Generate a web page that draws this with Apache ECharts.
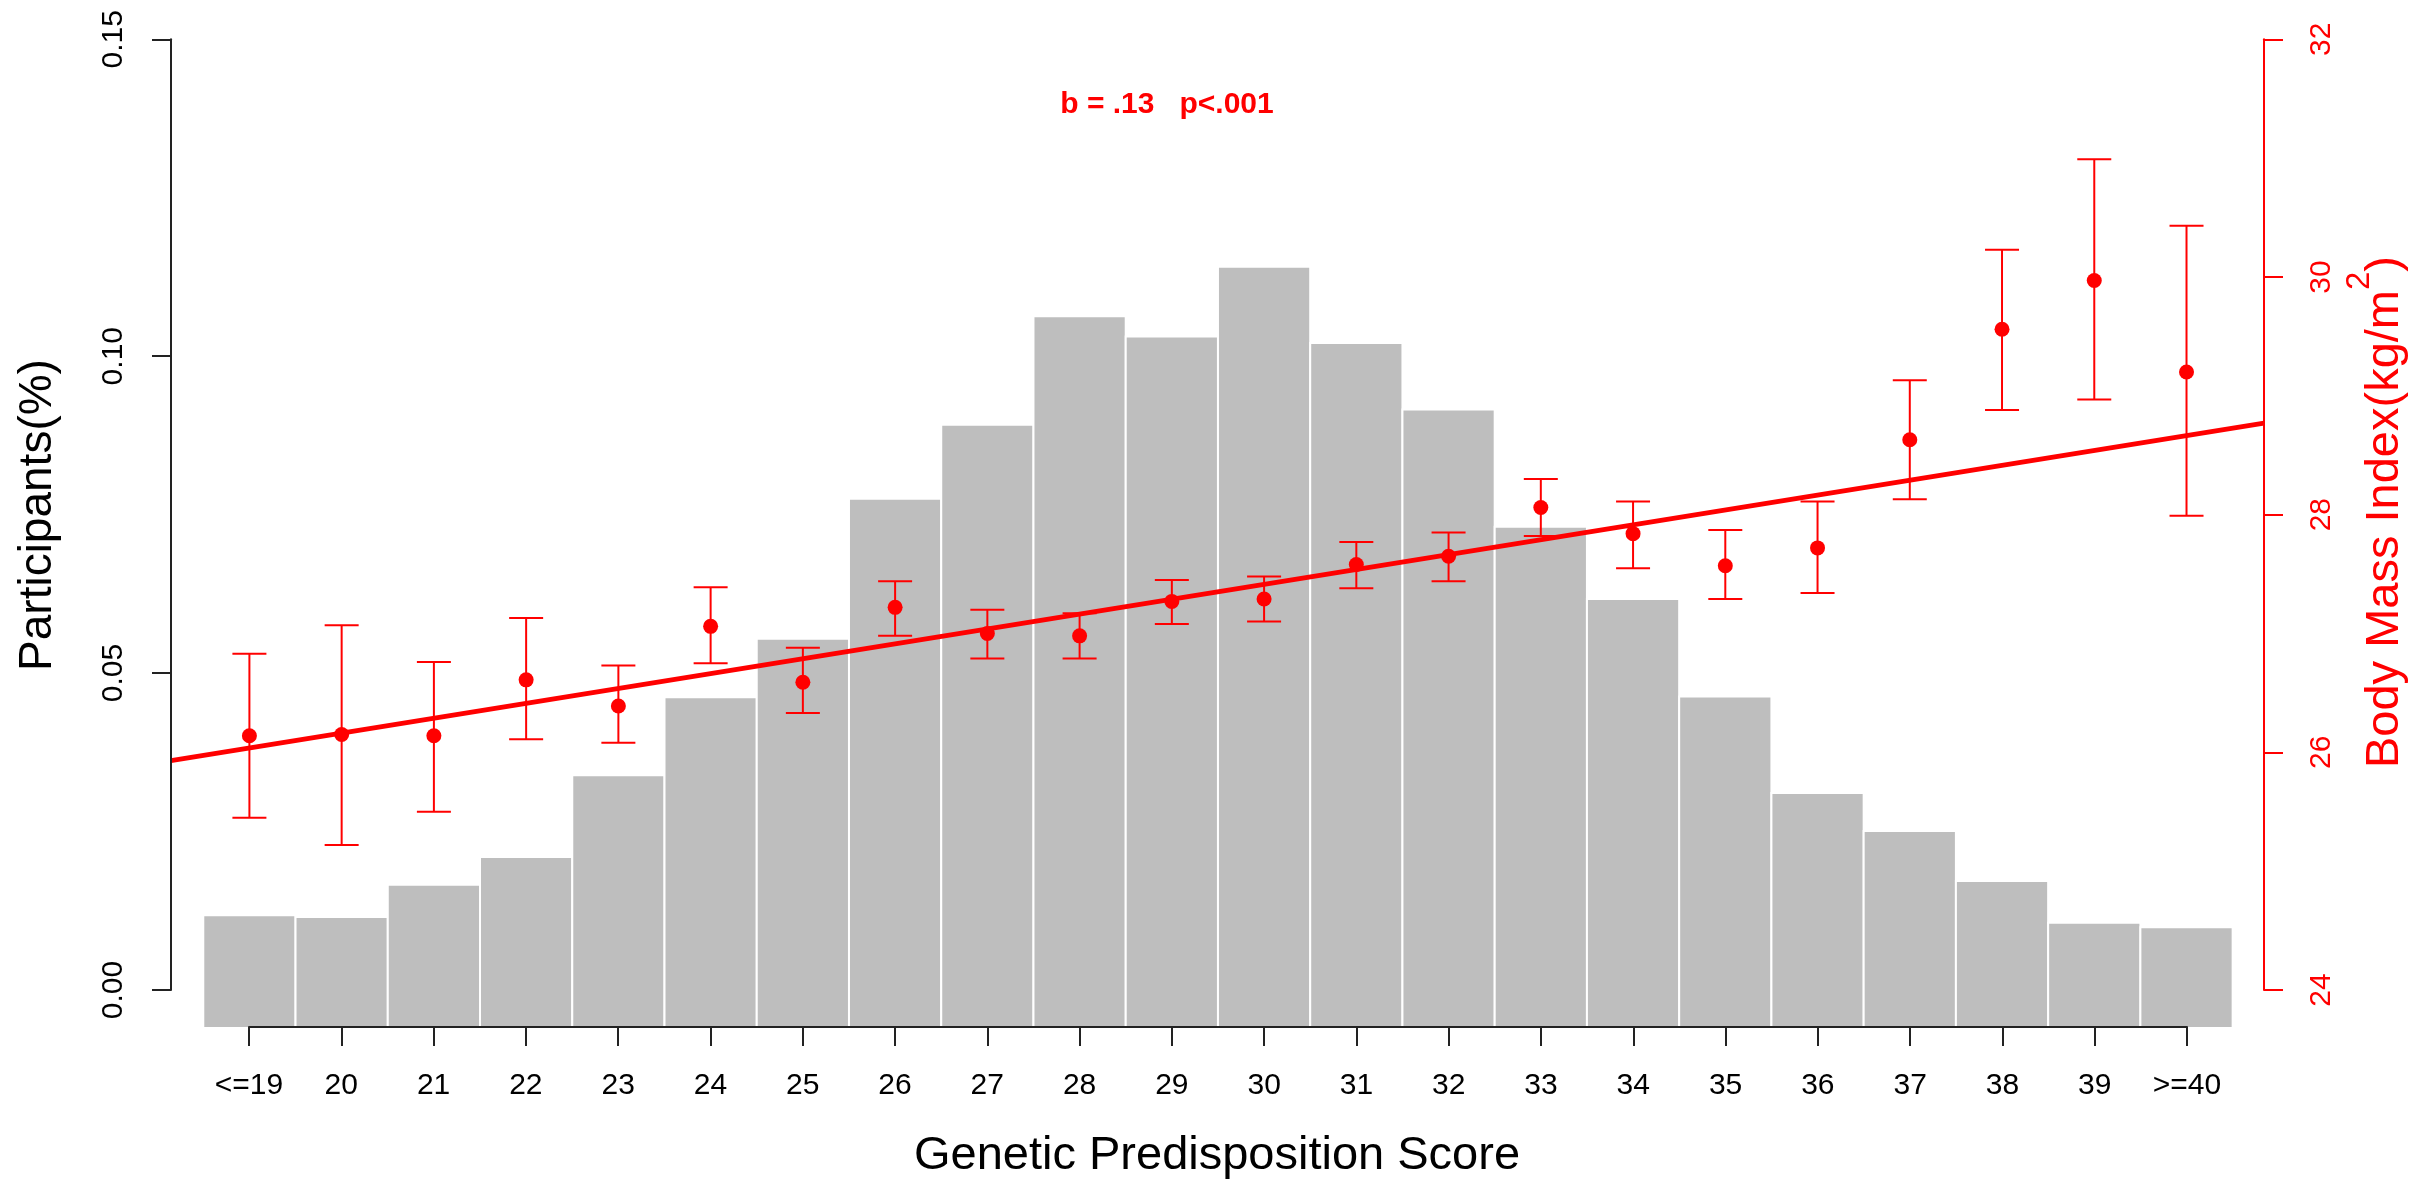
<!DOCTYPE html>
<html>
<head>
<meta charset="utf-8">
<title>Genetic Predisposition Score vs BMI</title>
<script src="https://cdn.jsdelivr.net/npm/echarts@6/dist/echarts.min.js"></script>
<style>
  html, body { margin: 0; padding: 0; background: #ffffff; }
  #chart { width: 2432px; height: 1185px; }
</style>
</head>
<body>
<div id="chart"></div>
<script>
// score groups on the x axis
const categories = ["<=19", "20", "21", "22", "23", "24", "25", "26", "27", "28", "29", "30",
  "31", "32", "33", "34", "35", "36", "37", "38", "39", ">=40"];
// share of participants per group (left axis)
const participants = [0.0118, 0.0115, 0.0166, 0.0210, 0.0339, 0.0462, 0.0554, 0.0775, 0.0892, 0.1063, 0.1031,
  0.1141, 0.1021, 0.0916, 0.0731, 0.0617, 0.0463, 0.0311, 0.0251, 0.0172, 0.0106, 0.0099];
// mean BMI and its interval per group (right axis)
const bmiMean = [26.14, 26.15, 26.14, 26.61, 26.39, 27.06, 26.59, 27.22, 27.00, 26.98, 27.27,
  27.29, 27.58, 27.65, 28.06, 27.84, 27.57, 27.72, 28.63, 29.56, 29.97, 29.20];
const bmiLow = [25.45, 25.22, 25.50, 26.11, 26.08, 26.75, 26.33, 26.98, 26.79, 26.79, 27.08,
  27.10, 27.38, 27.44, 27.82, 27.55, 27.29, 27.34, 28.13, 28.88, 28.97, 27.99];
const bmiHigh = [26.83, 27.07, 26.76, 27.13, 26.73, 27.39, 26.88, 27.44, 27.20, 27.17, 27.45,
  27.48, 27.77, 27.85, 28.30, 28.11, 27.87, 28.11, 29.13, 30.23, 30.99, 30.43];
// fitted regression line, at both ends of the plot box
const fitX = [-0.85, 21.84];
const fitY = [25.93, 28.77];
// tick labels
const leftTicks = [0, 0.05, 0.10, 0.15];
const rightTicks = [24, 26, 28, 30, 32];

const FONT = '"Liberation Sans", Arial, sans-serif';
const RED = "#ff0000";
const BAR_BASE = -0.006; // bars run a bit below zero, down to the x axis
const CAP = 17; // half width of error bar caps, px

const myChart = echarts.init(document.getElementById("chart"));

const option = {
  animation: false,
  backgroundColor: "#ffffff",
  textStyle: { fontFamily: FONT },
  grid: [
    // plot box, between the two y axes
    { left: 171, right: 168, top: 39.3, bottom: 195, outerBoundsMode: "none" },
    // x axis, from first to last group
    { left: 249, right: 245, top: 1000, bottom: 158, outerBoundsMode: "none" }
  ],
  xAxis: [
    { type: "value", gridIndex: 0, min: fitX[0], max: fitX[1], show: false },
    {
      type: "category",
      gridIndex: 1,
      data: categories,
      boundaryGap: false,
      position: "bottom",
      z: 10,
      axisLine: { show: true, onZero: false, lineStyle: { color: "#222", width: 2 } },
      axisTick: { show: true, length: 19, alignWithLabel: true, lineStyle: { color: "#222", width: 2 } },
      axisLabel: { show: true, interval: 0, margin: 44, fontSize: 30, color: "#000", fontFamily: FONT },
      splitLine: { show: false }
    }
  ],
  yAxis: [
    {
      type: "value",
      gridIndex: 0,
      position: "left",
      min: leftTicks[0],
      max: leftTicks[leftTicks.length - 1],
      interval: 0.05,
      z: 10,
      axisLine: { show: true, onZero: false, lineStyle: { color: "#222", width: 2 } },
      axisTick: { show: true, length: 19, lineStyle: { color: "#222", width: 2 } },
      axisLabel: {
        rotate: 90,
        margin: 42,
        fontSize: 30,
        color: "#000",
        fontFamily: FONT,
        formatter: value => value.toFixed(2)
      },
      splitLine: { show: false }
    },
    {
      type: "value",
      gridIndex: 0,
      position: "right",
      min: rightTicks[0],
      max: rightTicks[rightTicks.length - 1],
      interval: 2,
      z: 10,
      axisLine: { show: true, onZero: false, lineStyle: { color: RED, width: 2 } },
      axisTick: { show: true, length: 19, lineStyle: { color: RED, width: 2 } },
      axisLabel: { rotate: 90, margin: 43, fontSize: 30, color: RED, fontFamily: FONT },
      splitLine: { show: false }
    },
    { type: "value", gridIndex: 1, show: false }
  ],
  series: [
    {
      name: "Participants",
      type: "custom",
      xAxisIndex: 0,
      yAxisIndex: 0,
      clip: false,
      z: 1,
      encode: { x: 0, y: 1 },
      data: participants.map((v, i) => [i, v]),
      renderItem: (params, api) => {
        const i = api.value(0);
        const topLeft = api.coord([i - 0.5, api.value(1)]);
        const bottomRight = api.coord([i + 0.5, BAR_BASE]);
        return {
          type: "rect",
          shape: {
            x: topLeft[0],
            y: topLeft[1],
            width: bottomRight[0] - topLeft[0],
            height: bottomRight[1] - topLeft[1]
          },
          style: { fill: "#bebebe", stroke: "#ffffff", lineWidth: 2 }
        };
      }
    },
    {
      name: "BMI interval",
      type: "custom",
      xAxisIndex: 0,
      yAxisIndex: 1,
      clip: false,
      z: 3,
      encode: { x: 0, y: [1, 2] },
      data: bmiLow.map((v, i) => [i, v, bmiHigh[i]]),
      renderItem: (params, api) => {
        const i = api.value(0);
        const lo = api.coord([i, api.value(1)]);
        const hi = api.coord([i, api.value(2)]);
        const style = { stroke: RED, lineWidth: 2 };
        return {
          type: "group",
          children: [
            { type: "line", shape: { x1: lo[0], y1: lo[1], x2: hi[0], y2: hi[1] }, style },
            { type: "line", shape: { x1: hi[0] - CAP, y1: hi[1], x2: hi[0] + CAP, y2: hi[1] }, style },
            { type: "line", shape: { x1: lo[0] - CAP, y1: lo[1], x2: lo[0] + CAP, y2: lo[1] }, style }
          ]
        };
      }
    },
    {
      name: "Fit",
      type: "line",
      xAxisIndex: 0,
      yAxisIndex: 1,
      z: 4,
      symbol: "none",
      lineStyle: { color: RED, width: 5 },
      data: fitX.map((x, i) => [x, fitY[i]])
    },
    {
      name: "BMI",
      type: "scatter",
      xAxisIndex: 0,
      yAxisIndex: 1,
      z: 5,
      symbol: "circle",
      symbolSize: 15,
      itemStyle: { color: RED, opacity: 1 },
      data: bmiMean.map((v, i) => [i, v])
    },
    { type: "line", xAxisIndex: 1, yAxisIndex: 2, data: [] }
  ],
  graphic: [
    {
      type: "text",
      x: 1167,
      y: 105,
      style: {
        text: "b = .13   p<.001",
        font: "bold 30px " + FONT,
        fill: RED,
        align: "center",
        verticalAlign: "middle"
      }
    },
    {
      type: "text",
      x: 38,
      y: 515,
      rotation: Math.PI / 2,
      style: {
        text: "Participants(%)",
        font: "46px " + FONT,
        fill: "#000",
        align: "center",
        verticalAlign: "middle"
      }
    },
    {
      type: "text",
      x: 1217,
      y: 1156,
      style: {
        text: "Genetic Predisposition Score",
        font: "47px " + FONT,
        fill: "#000",
        align: "center",
        verticalAlign: "middle"
      }
    },
    {
      type: "text",
      x: 2385,
      y: 512,
      rotation: Math.PI / 2,
      style: {
        text: "{a|Body Mass Index(kg/m}{s|2}{a|)}",
        align: "center",
        verticalAlign: "middle",
        rich: {
          a: { fontSize: 47, fontFamily: FONT, fill: RED, lineHeight: 84 },
          s: { fontSize: 33, fontFamily: FONT, fill: RED, verticalAlign: "top" }
        }
      }
    }
  ]
};

myChart.setOption(option);
</script>
</body>
</html>
